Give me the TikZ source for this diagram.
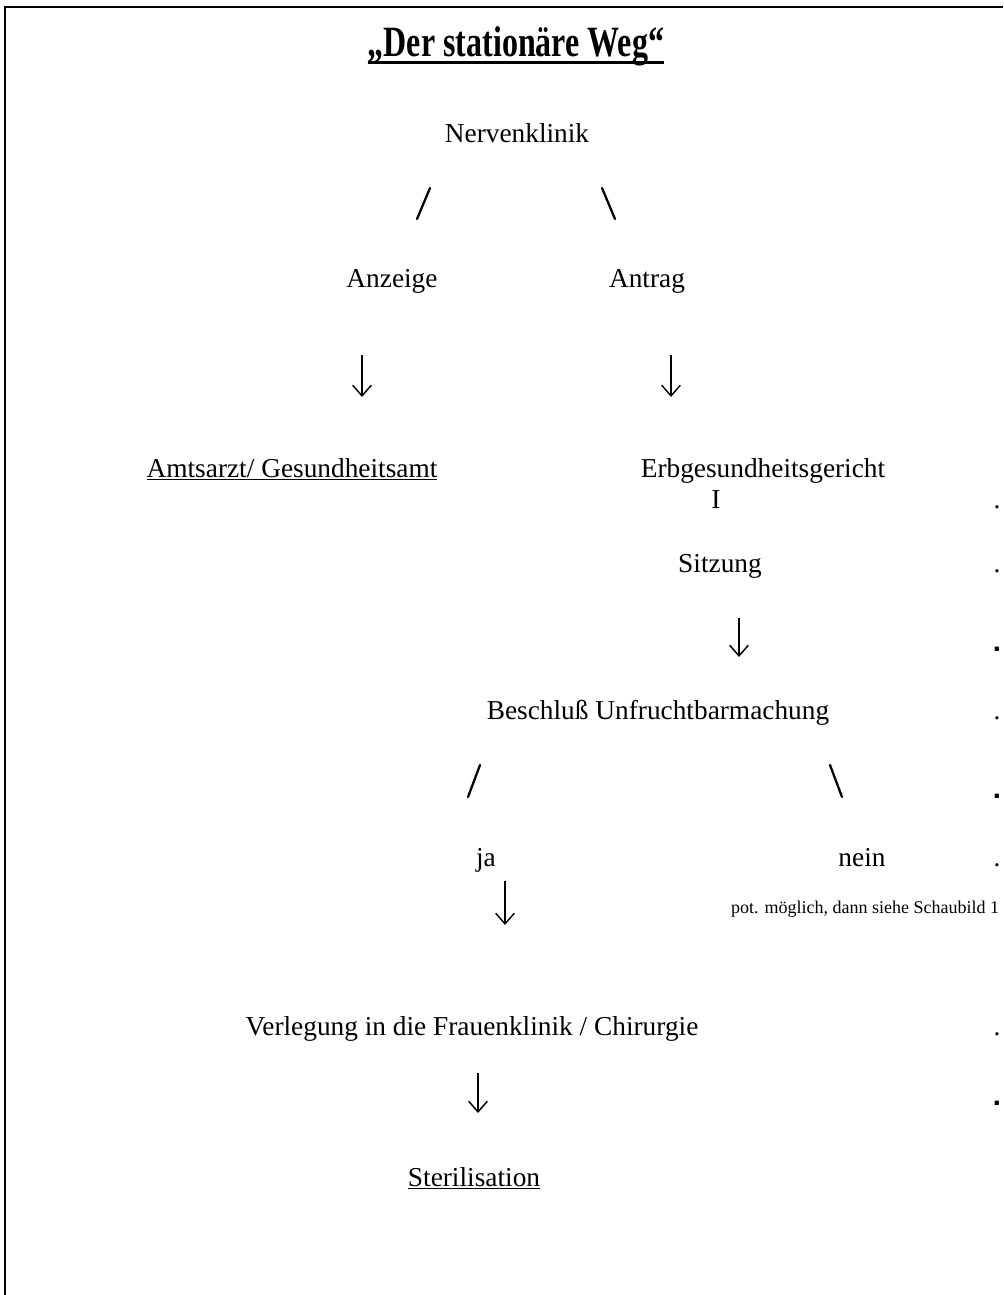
\documentclass[tikz,border=0pt]{standalone}
\usepackage{fontspec}
\setmainfont{Liberation Serif}
\newfontfamily\sansdot{Liberation Sans}
\usetikzlibrary{arrows.meta,positioning}

\begin{document}
\begin{tikzpicture}[x=0.75pt, y=-0.75pt,
  txt/.style={font=\fontsize{20.5}{24}\selectfont, inner sep=0pt, anchor=base},
  note/.style={font=\fontsize{13.5}{16}\selectfont, inner sep=0pt, anchor=base},
  bigdot/.style={font=\sansdot\bfseries\fontsize{22}{26}\selectfont, inner sep=0pt, anchor=base},
  branch/.style={line width=1.7pt, line cap=round},
  down/.style={line width=1.1pt, -{Straight Barb[length=8pt, width=14pt, line width=1.1pt]}}]
\useasboundingbox (0,0) rectangle (1003,1295);
% frame (only top and left edge visible)
\draw[line width=1.6pt] (5,1295) -- (5,7) -- (1003,7);

% title
\node[inner sep=0pt, anchor=base] (title) at (516,57)
  {\scalebox{1}[1.35]{\fontsize{24}{28}\selectfont\bfseries „Der stationäre Weg“}};
\draw[line width=2.6pt] ([yshift=-4pt]title.base west) -- ([yshift=-4pt]title.base east);

\node[txt] (klinik) at (517,142) {Nervenklinik};
\node[txt] (anzeige) at (392,287) {Anzeige};
\node[txt] (antrag) at (647,287) {Antrag};
\node[txt] (amtsarzt) at (292,477) {\underline{Amtsarzt/ Gesundheitsamt}};
\node[txt] (gericht) at (763,477) {Erbgesundheitsgericht};
\node[txt] (one) at (716,508) {I};
\node[txt] (sitzung) at (720,572) {Sitzung};
\node[txt] (beschluss) at (658,719) {Beschluß Unfruchtbarmachung};
\node[txt] (ja) at (486,866) {ja};
\node[txt] (nein) at (862,866) {nein};
\node[note] (pot) at (865,913) {pot. möglich, dann siehe Schaubild 1};
\node[txt] (verlegung) at (472,1035) {Verlegung in die Frauenklinik / Chirurgie};
\node[txt] (steril) at (474,1186) {\underline{Sterilisation}};

% dots on the right margin
\node[txt] (d1) at (997,508) {.};
\node[txt] (d2) at (997,572) {.};
\node[bigdot] (d3) at (997,651) {.};
\node[txt] (d4) at (997,719) {.};
\node[bigdot] (d5) at (997,798) {.};
\node[txt] (d6) at (997,866) {.};
\node[txt] (d7) at (997,1035) {.};
\node[bigdot] (d8) at (997,1105) {.};

% branch ends
\coordinate (s1a) at (430,188); \coordinate (s1b) at (417,219);
\coordinate (s2a) at (602,188); \coordinate (s2b) at (615,219);
\coordinate (s3a) at (480,765); \coordinate (s3b) at (468,797);
\coordinate (s4a) at (830,765); \coordinate (s4b) at (842,797);
\draw[branch] (s1a) -- (s1b);
\draw[branch] (s2a) -- (s2b);
\draw[branch] (s3a) -- (s3b);
\draw[branch] (s4a) -- (s4b);

% arrows
\coordinate (a1a) at (362,355); \coordinate (a1b) at (362,397);
\coordinate (a2a) at (671,355); \coordinate (a2b) at (671,397);
\coordinate (a3a) at (739,618); \coordinate (a3b) at (739,657);
\coordinate (a4a) at (505,881); \coordinate (a4b) at (505,925);
\coordinate (a5a) at (478,1073); \coordinate (a5b) at (478,1113);
\draw[down] (a1a) -- (a1b);
\draw[down] (a2a) -- (a2b);
\draw[down] (a3a) -- (a3b);
\draw[down] (a4a) -- (a4b);
\draw[down] (a5a) -- (a5b);
\end{tikzpicture}
\end{document}
